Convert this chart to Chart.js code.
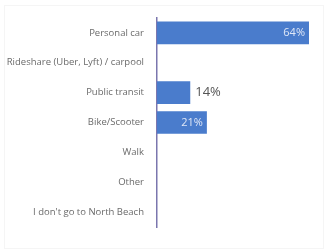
<!DOCTYPE html>
<html lang="en">
<head>
    <meta charset="UTF-8">
    <title>How do you get to North Beach</title>
    <script src="https://cdn.jsdelivr.net/npm/chart.js@4"></script>
    <style>
        body {
            margin: 0;
            background: #fff;
        }
        #wrap {
            position: relative;
            width: 325px;
            height: 251px;
        }
        #frame {
            position: absolute;
            left: 4px;
            top: 5px;
            width: 318px;
            height: 242px;
            border: 1px solid #f5f5f5;
        }
        canvas {
            position: absolute;
            left: 0;
            top: 0;
        }
    </style>
</head>
<body>
    <div id="wrap">
        <div id="frame"></div>
        <canvas id="modeChart" width="325" height="251"></canvas>
    </div>
    <script>
        const categories = [
            'Personal car',
            'Rideshare (Uber, Lyft) / carpool',
            'Public transit',
            'Bike/Scooter',
            'Walk',
            'Other',
            "I don't go to North Beach"
        ];
        const shares = [64, 0, 14, 21, 0, 0, 0];

        // draws the % labels: inside the bar when it is long enough, else just past its end
        const valueLabels = {
            id: 'valueLabels',
            afterDatasetsDraw(chart) {
                const ctx = chart.ctx;
                const meta = chart.getDatasetMeta(0);
                ctx.save();
                ctx.textBaseline = 'middle';
                meta.data.forEach((bar, i) => {
                    const v = shares[i];
                    if (!v) return;
                    const text = v + '%';
                    if (v >= 20) {
                        ctx.font = '11px "Open Sans", sans-serif';
                        ctx.fillStyle = '#dfe7f7';
                        ctx.textAlign = 'right';
                        ctx.fillText(text, bar.x - 4, bar.y);
                    } else {
                        ctx.font = '13px "Open Sans", sans-serif';
                        ctx.fillStyle = '#555';
                        ctx.textAlign = 'left';
                        ctx.fillText(text, bar.x + 5, bar.y);
                    }
                });
                ctx.restore();
            }
        };

        new Chart(document.getElementById('modeChart'), {
            type: 'bar',
            data: {
                labels: categories,
                datasets: [{
                    data: shares,
                    backgroundColor: '#4a7ccc',
                    borderWidth: 0,
                    categoryPercentage: 1,
                    barPercentage: 0.76
                }]
            },
            options: {
                indexAxis: 'y',
                responsive: false,
                animation: false,
                layout: {
                    padding: { top: 18, bottom: 24, right: 16, left: 0 }
                },
                plugins: {
                    legend: { display: false },
                    tooltip: { enabled: false }
                },
                scales: {
                    x: {
                        display: false,
                        min: 0,
                        max: 64
                    },
                    y: {
                        afterFit: scale => { scale.width = 157; },
                        grid: { display: false },
                        border: { display: true, color: '#7b76ae', width: 1.5 },
                        ticks: {
                            color: '#6a6a6a',
                            padding: 5,
                            font: { family: '"Open Sans", sans-serif', size: 9.5 }
                        }
                    }
                }
            },
            plugins: [valueLabels]
        });
    </script>
</body>
</html>
